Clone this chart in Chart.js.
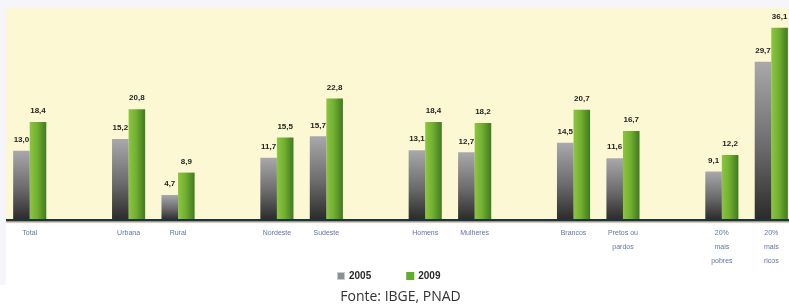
<!DOCTYPE html>
<html>
<head>
<meta charset="utf-8">
<script src="https://cdn.jsdelivr.net/npm/chart.js@4.4.1/dist/chart.umd.min.js"></script>
<style>
  html, body { margin: 0; padding: 0; background: #ffffff; overflow: hidden; }
  #wrap { width: 789px; height: 306px; overflow: hidden; position: relative; }
  #box { position: absolute; left: 0; top: 0; width: 796px; height: 306px; }
</style>
</head>
<body>
<div id="wrap"><div id="box"><canvas id="myChart"></canvas></div></div>
<script>
// blank slots keep the gaps between the groups
const categories = [
  'Total', '', 'Urbana', 'Rural', '', 'Nordeste', 'Sudeste', '',
  'Homens', 'Mulheres', '', 'Brancos', ['Pretos ou', 'pardos'], '',
  ['20%', 'mais', 'pobres'], ['20%', 'mais', 'ricos'],
];
const values2005 = [13.0, null, 15.2, 4.7, null, 11.7, 15.7, null, 13.1, 12.7, null, 14.5, 11.6, null, 9.1, 29.7];
const values2009 = [18.4, null, 20.8, 8.9, null, 15.5, 22.8, null, 18.4, 18.2, null, 20.7, 16.7, null, 12.2, 36.1];
const seriesNames = ['2005', '2009'];
const seriesKeys = ['#8a8f96', '#5fae2e'];

const ctx = document.getElementById('myChart').getContext('2d');
const CAT_PCT = 0.67;

// gray bars: light on top, dark at the base
const grayFill = (context) => {
  const chart = context.chart;
  const y = chart.scales.y;
  if (!y || context.raw == null) return '#777';
  const top = y.getPixelForValue(context.raw);
  const base = y.getPixelForValue(0);
  if (!Number.isFinite(top) || !Number.isFinite(base)) return '#777';
  const g = chart.ctx.createLinearGradient(0, top, 0, base);
  g.addColorStop(0, '#a9a9ab');
  g.addColorStop(0.55, '#6a6a6c');
  g.addColorStop(1, '#2a2a2a');
  return g;
};

// green bars: shaded across the width
const greenFill = (context) => {
  const chart = context.chart;
  const x = chart.scales.x;
  if (!x) return '#6aa82c';
  const c = x.getPixelForValue(context.dataIndex);
  const w = ((x.right - x.left) / categories.length) * CAT_PCT / 2;
  if (!Number.isFinite(c) || !Number.isFinite(w)) return '#6aa82c';
  const g = chart.ctx.createLinearGradient(c, 0, c + w, 0);
  g.addColorStop(0, '#8cc640');
  g.addColorStop(0.45, '#72b032');
  g.addColorStop(1, '#3f7a1e');
  return g;
};

const backdrop = {
  id: 'backdrop',
  beforeDraw(chart) {
    const { ctx, chartArea } = chart;
    ctx.save();
    ctx.fillStyle = '#ffffff';
    ctx.fillRect(0, 0, chart.width, chart.height);
    ctx.fillStyle = '#f5f5fa';
    ctx.fillRect(0, 0, chart.width, chartArea.top);
    ctx.fillRect(0, 0, chartArea.left + 1, 285);
    ctx.fillStyle = '#fcf8d3';
    ctx.fillRect(chartArea.left + 1, chartArea.top, chartArea.right - chartArea.left, chartArea.bottom - chartArea.top);
    ctx.restore();
  },
  afterDatasetsDraw(chart) {
    const { ctx, chartArea } = chart;
    ctx.save();
    ctx.fillStyle = '#1c3536';
    ctx.fillRect(chartArea.left + 1, chartArea.bottom - 1, chartArea.right - chartArea.left, 2.5);
    ctx.fillStyle = 'rgba(240,150,120,0.6)';
    ctx.fillRect(chartArea.left + 1, chartArea.bottom + 2, chartArea.right - chartArea.left, 1);
    // value labels
    ctx.font = 'bold 8px "Liberation Sans", Arial, sans-serif';
    ctx.fillStyle = '#1e1e1e';
    ctx.textAlign = 'center';
    ctx.textBaseline = 'middle';
    chart.data.datasets.forEach((ds, di) => {
      chart.getDatasetMeta(di).data.forEach((bar, i) => {
        const v = ds.data[i];
        if (v == null) return;
        ctx.fillText(v.toFixed(1).replace('.', ','), bar.x, bar.y - 11);
      });
    });
    ctx.restore();
  },
  // small legend a bit left of centre, like the original
  afterDraw(chart) {
    const ctx = chart.ctx;
    const y = 276;
    let x = 337;
    ctx.save();
    ctx.font = 'bold 10px "Liberation Sans", Arial, sans-serif';
    ctx.textBaseline = 'middle';
    ctx.textAlign = 'left';
    seriesNames.forEach((name, i) => {
      ctx.fillStyle = seriesKeys[i];
      ctx.fillRect(x, y - 4, 8, 8);
      if (i === 0) {
        ctx.strokeStyle = '#c8ccd2';
        ctx.lineWidth = 1;
        ctx.strokeRect(x + 0.5, y - 3.5, 7, 7);
      }
      ctx.fillStyle = '#2a2a2a';
      ctx.fillText(name, x + 12, y);
      x += 12 + ctx.measureText(name).width + 35;
    });
    ctx.restore();
  },
};

new Chart(ctx, {
  type: 'bar',
  data: {
    labels: categories,
    datasets: [
      {
        label: seriesNames[0],
        data: values2005,
        backgroundColor: grayFill,
        borderWidth: 0,
        categoryPercentage: CAT_PCT,
        barPercentage: 1,
        skipNull: false,
      },
      {
        label: seriesNames[1],
        data: values2009,
        backgroundColor: greenFill,
        borderWidth: 0,
        categoryPercentage: CAT_PCT,
        barPercentage: 1,
        skipNull: false,
      },
    ],
  },
  plugins: [backdrop],
  options: {
    responsive: true,
    maintainAspectRatio: false,
    animation: false,
    layout: {
      padding: { top: 8, left: 5, right: 0, bottom: 0 },
    },
    scales: {
      x: {
        grid: { display: false, drawTicks: false },
        border: { display: false },
        // leave room under the labels for the legend row
        afterFit: (scale) => { scale.height = 70; },
        ticks: {
          autoSkip: false,
          maxRotation: 0,
          padding: 6,
          color: '#5f76a6',
          font: { family: '"Liberation Sans", Arial, sans-serif', size: 7, lineHeight: '14px' },
        },
      },
      y: {
        display: false,
        min: 0,
        max: 39.8,
      },
    },
    plugins: {
      tooltip: { enabled: false },
      legend: { display: false },
      title: {
        display: true,
        position: 'bottom',
        text: 'Fonte: IBGE, PNAD',
        color: '#333333',
        font: { family: '"Open Sans", sans-serif', size: 14, weight: 'normal', lineHeight: 1 },
        padding: { top: 0, bottom: 2 },
      },
    },
  },
});
</script>
</body>
</html>
